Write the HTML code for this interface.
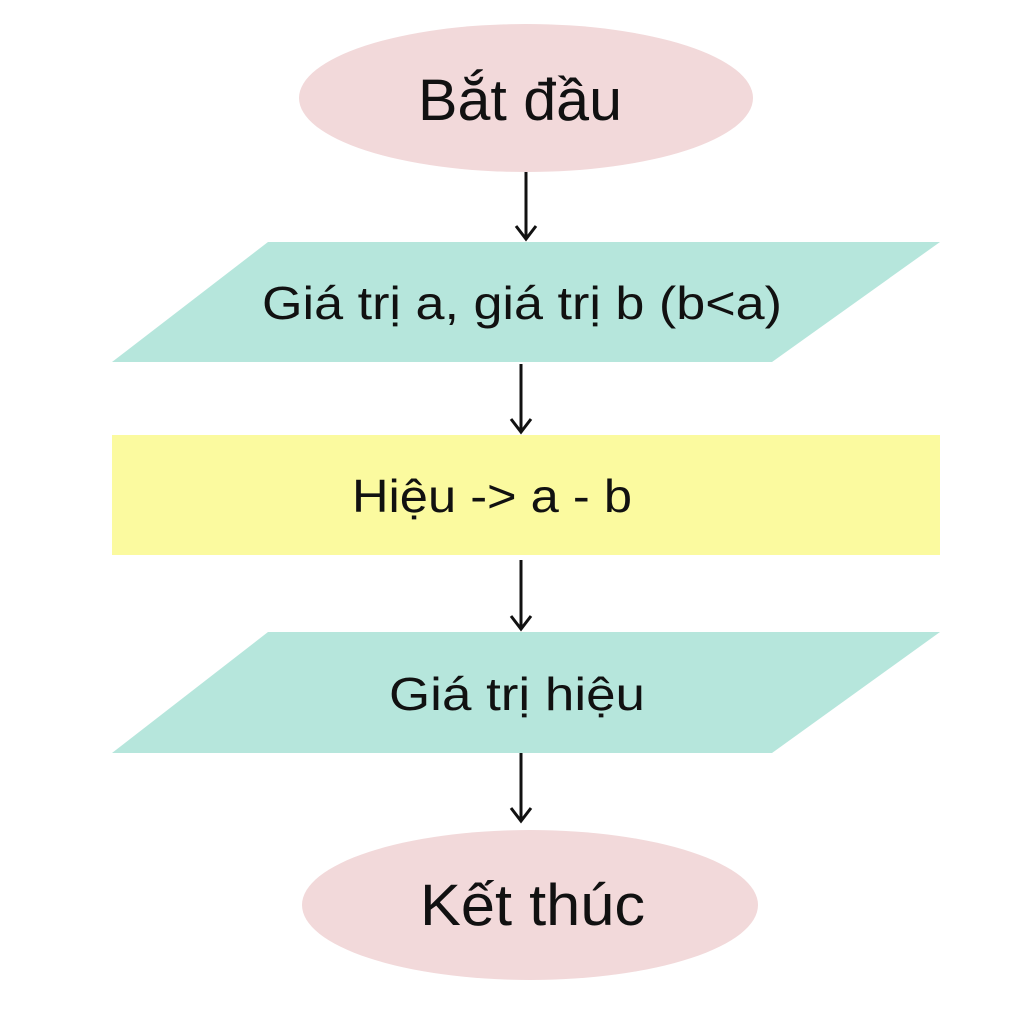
<!DOCTYPE html>
<html><head><meta charset="utf-8"><style>
html,body{margin:0;padding:0;background:#fff;}
svg{display:block}
text{font-family:"Liberation Sans","DejaVu Sans",sans-serif;fill:#111;}
</style></head><body>
<svg width="1024" height="1024" viewBox="0 0 1024 1024" xmlns="http://www.w3.org/2000/svg">
<ellipse cx="526" cy="98" rx="227" ry="74" fill="#f2d9da"/>
<text x="418" y="120" font-size="58" textLength="204" lengthAdjust="spacingAndGlyphs">Bắt đầu</text>
<g stroke="#111" stroke-width="3" fill="none">
<line x1="526" y1="172" x2="526" y2="238"/><path d="M516,226 L526,239 L536,226"/>
<line x1="521" y1="364" x2="521" y2="431"/><path d="M511,419 L521,432 L531,419"/>
<line x1="521" y1="560" x2="521" y2="628"/><path d="M511,616 L521,629 L531,616"/>
<line x1="521" y1="753" x2="521" y2="820"/><path d="M511,808 L521,821 L531,808"/>
</g>
<polygon points="268,242 940,242 772,362 112,362" fill="#b6e6dc"/>
<text x="262" y="319" font-size="46" textLength="520" lengthAdjust="spacingAndGlyphs">Giá trị a, giá trị b (b&lt;a)</text>
<rect x="112" y="435" width="828" height="120" fill="#fbfa9f"/>
<text x="352" y="512" font-size="46" textLength="280" lengthAdjust="spacingAndGlyphs">Hiệu -&gt; a - b</text>
<polygon points="268,632 940,632 772,753 112,753" fill="#b6e6dc"/>
<text x="389" y="710" font-size="46" textLength="256" lengthAdjust="spacingAndGlyphs">Giá trị hiệu</text>
<ellipse cx="530" cy="905" rx="228" ry="75" fill="#f2d9da"/>
<text x="420" y="925" font-size="58" textLength="225" lengthAdjust="spacingAndGlyphs">Kết thúc</text>
</svg>
</body></html>
